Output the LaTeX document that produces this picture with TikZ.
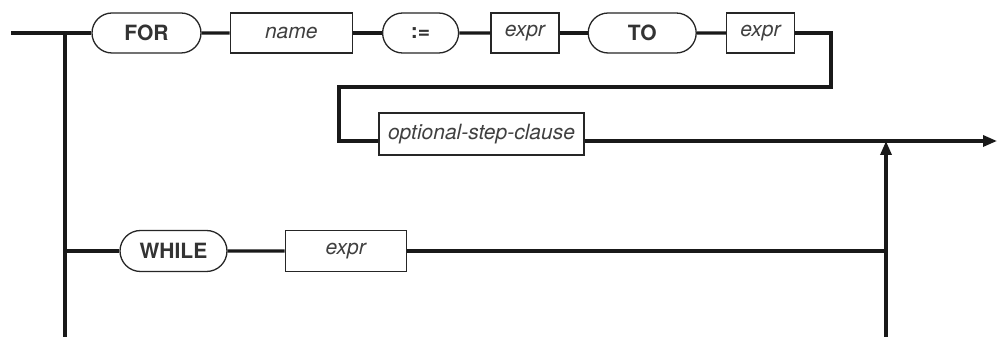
\documentclass[tikz,border=0pt]{standalone}
\usepackage{fontspec}
\setmainfont{TeX Gyre Heros}
\usetikzlibrary{positioning,shapes.misc,arrows.meta}

\begin{document}
\begin{tikzpicture}[x=1pt,y=1pt,
                    keynode/.style={rounded rectangle, draw=black!85, line width=1.3pt, fill=white, minimum height=40pt, inner sep=0pt, text=black!80, font=\fontsize{21}{25}\selectfont\bfseries},
                    namenode/.style={rectangle, draw=black!85, line width=1.3pt, fill=white, minimum height=40pt, inner sep=0pt, text=black!75, font=\fontsize{21}{25}\selectfont\itshape},
                    rail/.style={line width=3.2pt, black!90},
                    railarrow/.style={rail, -{Triangle[length=14pt,width=11pt]}}]
    \useasboundingbox (0,0) rectangle (997,337);
    % nodes
    \node[keynode, minimum width=109pt]  (for)   at (146.5,304)                 {FOR};
    \node[namenode, minimum width=122pt] (name)  [right=28pt of for]          {name};
    \node[keynode, minimum width=76pt]   (assign) [right=29pt of name]        {:=};
    \node[namenode, minimum width=68pt]  (exprA) [right=31pt of assign]       {expr};
    \node[keynode, minimum width=108pt]  (to)    [right=28pt of exprA]        {TO};
    \node[namenode, minimum width=68pt]  (exprB) [right=29pt of to]           {expr};
    \node[namenode, minimum width=205pt, minimum height=42pt] (step) at (481.5,203) {optional-step-clause};
    \node[keynode, minimum width=107pt, minimum height=41pt]  (while) at (173.5,86) {WHILE};
    \node[namenode, minimum width=121pt, minimum height=41pt] (exprC) [right=57pt of while] {expr};
    % points
    \coordinate (entry)    at (11,304);
    \coordinate (split)    at (65,304);
    \coordinate (splitbot) at (65,0);
    \coordinate (turnA)    at (831,250);
    \coordinate (turnB)    at (339,250);
    \coordinate (merge)    at (886,196);
    \coordinate (mergebot) at (886,0);
    \coordinate (exit)     at (997,196);
    % lines
    \draw[rail] (entry) -- (for);
    \draw[rail] (split) -- (splitbot);
    \draw[rail] (for) -- (name);
    \draw[rail] (name) -- (assign);
    \draw[rail] (assign) -- (exprA);
    \draw[rail] (exprA) -- (to);
    \draw[rail] (to) -- (exprB);
    \draw[rail] (exprB.east) -| (turnA) -- (turnB) |- ([yshift=-7pt]step.west);
    \draw[railarrow] ([yshift=-7pt]step.east) -- (exit);
    \draw[rail] (split |- while) -- (while);
    \draw[rail] (while) -- (exprC);
    \draw[rail] (exprC) -- (mergebot |- exprC);
    \draw[railarrow] (mergebot) -- (merge);
\end{tikzpicture}
\end{document}
